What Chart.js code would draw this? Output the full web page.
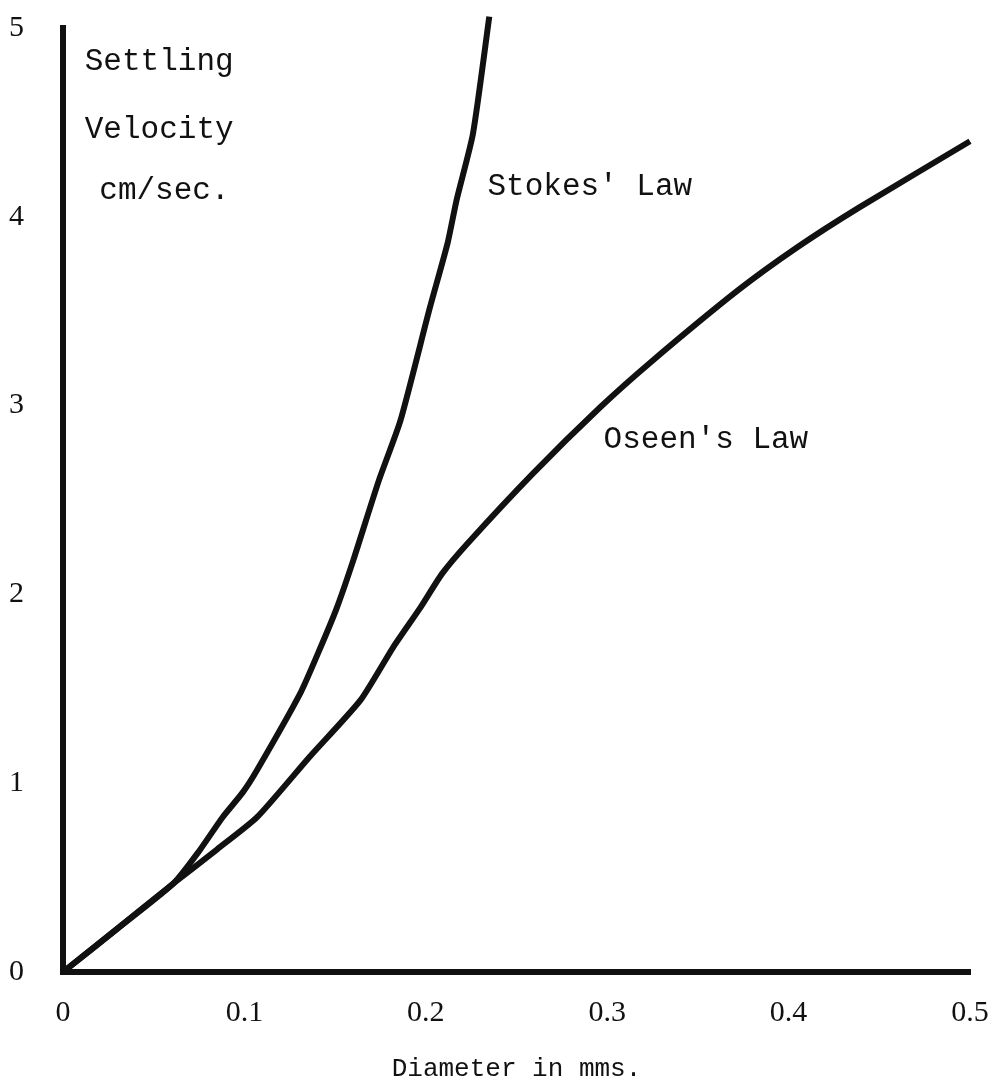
<!DOCTYPE html>
<html>
<head>
<meta charset="utf-8">
<script src="https://cdn.jsdelivr.net/npm/chart.js@4"></script>
<style>
	html, body { margin: 0; padding: 0; background: #fff; }
	canvas { display: block; }
</style>
</head>
<body>
<canvas id="chart-settling" width="1005" height="1089"></canvas>
<script>
// Values (diameter in mm, velocity in cm/sec)
const stokesDiameter = [0, 0.03, 0.061, 0.075, 0.088, 0.099, 0.107, 0.131, 0.142, 0.151, 0.16, 0.174, 0.186, 0.202, 0.212, 0.217, 0.226, 0.235];
const stokesVelocity = [0, 0.23, 0.47, 0.64, 0.82, 0.95, 1.07, 1.48, 1.72, 1.93, 2.18, 2.6, 2.92, 3.51, 3.86, 4.09, 4.44, 5.06];

const oseenDiameter = [0, 0.03, 0.061, 0.085, 0.107, 0.136, 0.164, 0.182, 0.197, 0.209, 0.223, 0.259, 0.296, 0.324, 0.372, 0.405, 0.439, 0.5];
const oseenVelocity = [0, 0.23, 0.47, 0.65, 0.82, 1.14, 1.44, 1.72, 1.93, 2.11, 2.27, 2.64, 2.99, 3.23, 3.61, 3.84, 4.05, 4.4];

const xTicks = [0, 0.1, 0.2, 0.3, 0.4, 0.5];
const yTicks = [0, 1, 2, 3, 4, 5];

// Text written on the plot, placed in data units
const notes = ['Settling', 'Velocity', 'cm/sec.', "Stokes' Law", "Oseen's Law"];
const noteX = [0.012, 0.012, 0.02, 0.234, 0.298];
const noteY = [4.82, 4.46, 4.14, 4.16, 2.82];

const toPoints = (xs, ys) => xs.map((x, i) => ({ x: x, y: ys[i] }));

const textFont = '"Liberation Mono", "DejaVu Sans Mono", monospace';
const ink = '#111';

const notesPlugin = {
	id: 'notes',
	afterDatasetsDraw(chart) {
		const { ctx, scales } = chart;
		ctx.save();
		ctx.font = '31px ' + textFont;
		ctx.fillStyle = ink;
		ctx.textAlign = 'left';
		ctx.textBaseline = 'middle';
		notes.forEach((t, i) => {
			ctx.fillText(t, scales.x.getPixelForValue(noteX[i]), scales.y.getPixelForValue(noteY[i]));
		});
		ctx.restore();
	},
};

!(function () {
	const ctx = document.getElementById('chart-settling');

	new Chart(ctx, {
		type: 'line',
		data: {
			datasets: [
				{
					label: "Stokes' Law",
					data: toPoints(stokesDiameter, stokesVelocity),
					borderColor: ink,
					borderWidth: 6,
					pointRadius: 0,
					tension: 0.2,
					clip: false,
				},
				{
					label: "Oseen's Law",
					data: toPoints(oseenDiameter, oseenVelocity),
					borderColor: ink,
					borderWidth: 6,
					pointRadius: 0,
					tension: 0.2,
					clip: false,
				},
			],
		},
		options: {
			responsive: false,
			animation: false,
			devicePixelRatio: 1,
			layout: {
				padding: { left: 5, right: 35, top: 28, bottom: 0 },
			},
			scales: {
				x: {
					type: 'linear',
					min: 0,
					max: 0.5,
					afterBuildTicks: (axis) => {
						axis.ticks = xTicks.map((v) => ({ value: v }));
					},
					afterFit: (axis) => {
						axis.height = 117;
						axis.paddingLeft = 0;
						axis.paddingRight = 0;
					},
					grid: { display: false, drawTicks: false },
					border: { display: true, width: 6, color: ink },
					ticks: {
						padding: 23,
						color: ink,
						font: { family: '"Liberation Serif", serif', size: 30 },
						maxRotation: 0,
						callback: (v) => (v === 0 ? '0' : v.toFixed(1)),
					},
					title: {
						display: true,
						text: 'Diameter in mms.',
						color: ink,
						font: { family: textFont, size: 26 },
						padding: { top: 24, bottom: 4 },
					},
				},
				y: {
					type: 'linear',
					min: 0,
					max: 5,
					afterBuildTicks: (axis) => {
						axis.ticks = yTicks.map((v) => ({ value: v }));
					},
					afterFit: (axis) => {
						axis.width = 58;
						axis.paddingTop = 0;
						axis.paddingBottom = 0;
					},
					grid: { display: false, drawTicks: false },
					border: { display: true, width: 6, color: ink },
					ticks: {
						padding: 39,
						color: ink,
						font: { family: '"Liberation Serif", serif', size: 30 },
					},
				},
			},
			plugins: {
				legend: { display: false },
				tooltip: { enabled: false },
			},
		},
		plugins: [notesPlugin],
	});
})();
</script>
</body>
</html>
